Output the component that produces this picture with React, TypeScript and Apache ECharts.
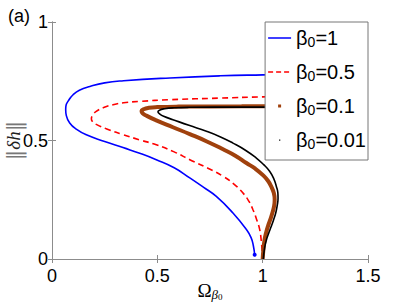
import React, { useEffect, useRef } from "react";
import * as echarts from "echarts";

const xTicks = [0, 0.5, 1, 1.5];
const yTicks = [0, 0.5, 1];

const seriesNames = ["β0=1", "β0=0.5", "β0=0.1", "β0=0.01"];

const beta1: number[][] = [
  [1.5, 0.782], [1.2, 0.78], [1.0, 0.777], [0.8, 0.773], [0.56, 0.764], [0.34, 0.752],
  [0.25, 0.743], [0.18, 0.728], [0.13, 0.712], [0.1, 0.693], [0.078, 0.668], [0.066, 0.645],
  [0.065, 0.63], [0.068, 0.605], [0.084, 0.574], [0.115, 0.548], [0.163, 0.524], [0.25, 0.496],
  [0.337, 0.47], [0.42, 0.445], [0.495, 0.419], [0.58, 0.385], [0.654, 0.342], [0.72, 0.302],
  [0.78, 0.264], [0.859, 0.194], [0.923, 0.124], [0.945, 0.09], [0.956, 0.055], [0.962, 0.018],
];

const beta05: number[][] = [
  [1.5, 0.69], [1.2, 0.687], [1.0, 0.684], [0.8, 0.679], [0.56, 0.672], [0.416, 0.665],
  [0.34, 0.659], [0.29, 0.651], [0.245, 0.639], [0.21, 0.623], [0.194, 0.608], [0.187, 0.591],
  [0.194, 0.578], [0.21, 0.568], [0.26, 0.549], [0.337, 0.525], [0.415, 0.503], [0.495, 0.482],
  [0.58, 0.452], [0.654, 0.419], [0.74, 0.383], [0.812, 0.349], [0.865, 0.315], [0.907, 0.278],
  [0.935, 0.243], [0.954, 0.208], [0.972, 0.165], [0.986, 0.124], [0.993, 0.08], [0.997, 0.039],
  [1.0, 0.0],
];

const beta01: number[][] = [
  [1.5, 0.645], [1.2, 0.645], [0.9, 0.644], [0.6, 0.643], [0.5, 0.641], [0.46, 0.638],
  [0.435, 0.632], [0.425, 0.624], [0.43, 0.615], [0.45, 0.604], [0.495, 0.585], [0.574, 0.556],
  [0.654, 0.527], [0.735, 0.496], [0.812, 0.463], [0.87, 0.436], [0.923, 0.405], [0.965, 0.381],
  [1.0, 0.355], [1.025, 0.33], [1.041, 0.305], [1.053, 0.278], [1.057, 0.25], [1.054, 0.222],
  [1.046, 0.194], [1.036, 0.166], [1.025, 0.138], [1.016, 0.11], [1.009, 0.081], [1.004, 0.045],
  [1.0, 0.0],
];

const beta001: number[][] = [
  [1.5, 0.641], [1.2, 0.641], [0.9, 0.641], [0.65, 0.64], [0.58, 0.638], [0.535, 0.634],
  [0.51, 0.628], [0.503, 0.621], [0.51, 0.613], [0.53, 0.602], [0.574, 0.588], [0.65, 0.564],
  [0.733, 0.539], [0.8, 0.515], [0.859, 0.489], [0.92, 0.458], [0.97, 0.426], [1.005, 0.398],
  [1.033, 0.37], [1.053, 0.338], [1.065, 0.306], [1.072, 0.28], [1.073, 0.257], [1.069, 0.225],
  [1.062, 0.194], [1.052, 0.166], [1.041, 0.138], [1.029, 0.11], [1.018, 0.081], [1.009, 0.045],
  [1.003, 0.0],
];

const colors = ["#0000ff", "#ff0000", "#a0410d", "#000000"];

const corners = "M0,0h0.01v0.01z M23,14h0.01v0.01z ";
const icons = [
  "path://" + corners + "M0,6.2H23V7.8H0z",
  "path://" + corners + "M0,6.2H5V7.8H0z M8,6.2H13V7.8H8z M16,6.2H21V7.8H16z",
  "path://" + corners + "M10,5.5h3v3h-3z",
  "path://" + corners + "M11,6.6h1.2v1.2h-1.2z",
];

export default function App() {
  const ref = useRef<HTMLDivElement>(null);
  useEffect(() => {
    if (!ref.current) return;
    const chart = echarts.init(ref.current, null, { renderer: "svg" });
    const axisColor = "#8c8c8c";
    const labelFont = { fontSize: 18, fontFamily: "Liberation Sans", color: "#000" };
    const dataSets = [beta1, beta05, beta01, beta001];
    const blueData: any[] = beta1.map((p, i) =>
      i === beta1.length - 1 ? { value: p, symbol: "circle", symbolSize: 4 } : { value: p }
    );
    const lineBase = { type: "line", smooth: 0.5, symbol: "none", z: 3 };
    chart.setOption({
      animation: false,
      grid: {
        left: 52,
        right: 39,
        top: 22,
        bottom: 46,
        containLabel: false,
        outerBoundsMode: "none",
      },
      graphic: [
        {
          type: "text",
          left: 8,
          top: 7,
          style: { text: "(a)", font: "18px 'Liberation Sans'", fill: "#000" },
        },
      ],
      xAxis: [
        {
          type: "value",
          min: 0,
          max: 1.5,
          interval: 0.5,
          axisLine: { show: true, lineStyle: { color: axisColor, width: 1 } },
          axisTick: { show: true, inside: true, length: 4, lineStyle: { color: axisColor } },
          splitLine: { show: false },
          axisLabel: { ...labelFont, margin: 8, formatter: (v: number) => String(v) },
          name: "{o|Ω}{b|β}{z|0}",
          nameLocation: "middle",
          nameGap: 20,
          nameMoveOverlap: false,
          nameTextStyle: {
            rich: {
              o: { fontSize: 19, fontFamily: "Liberation Serif", color: "#000", lineHeight: 22 },
              b: {
                fontSize: 13,
                fontFamily: "Liberation Serif",
                fontStyle: "italic",
                color: "#000",
                lineHeight: 10,
                verticalAlign: "bottom",
              },
              z: {
                fontSize: 9,
                fontFamily: "Liberation Serif",
                color: "#000",
                lineHeight: 6,
                verticalAlign: "bottom",
              },
            },
          },
        },
        {
          type: "value",
          position: "top",
          min: 0,
          max: 1.5,
          interval: 0.5,
          axisLine: { show: true, lineStyle: { color: axisColor, width: 1 } },
          axisTick: { show: true, inside: true, length: 4, lineStyle: { color: axisColor } },
          splitLine: { show: false },
          axisLabel: { show: false },
        },
      ],
      yAxis: [
        {
          type: "value",
          min: 0,
          max: 1,
          interval: 0.5,
          axisLine: { show: true, lineStyle: { color: axisColor, width: 1 } },
          axisTick: { show: true, inside: true, length: 4, lineStyle: { color: axisColor } },
          splitLine: { show: false },
          axisLabel: { ...labelFont, margin: 4, formatter: (v: number) => String(v) },
          name: "{bar|‖}{i|δh}{bar|‖}",
          nameLocation: "middle",
          nameGap: 28,
          nameMoveOverlap: false,
          nameTextStyle: {
            rich: {
              bar: { fontSize: 21, fontFamily: "DejaVu Serif", color: "#777" },
              i: {
                fontSize: 19,
                fontFamily: "Liberation Serif",
                fontStyle: "italic",
                color: "#222",
              },
            },
          },
        },
        {
          type: "value",
          position: "right",
          min: 0,
          max: 1,
          interval: 0.5,
          axisLine: { show: true, lineStyle: { color: axisColor, width: 1 } },
          axisTick: { show: true, inside: true, length: 4, lineStyle: { color: axisColor } },
          splitLine: { show: false },
          axisLabel: { show: false },
        },
      ],
      legend: {
        orient: "vertical",
        right: 39,
        top: 22,
        backgroundColor: "#fff",
        borderColor: "#777",
        borderWidth: 1,
        borderRadius: 0,
        padding: [6, 2, 9, 3],
        itemGap: 13,
        itemWidth: 23,
        itemHeight: 14,
        itemStyle: { borderWidth: 0 },
        data: seriesNames.map((n, i) => ({ name: n, icon: icons[i] })),
        formatter: (name: string) => "{m|β}{s|0}{m|=" + name.split("=")[1] + "}",
        textStyle: {
          rich: {
            m: { fontSize: 20, fontFamily: "Liberation Sans", color: "#000", lineHeight: 22 },
            s: {
              fontSize: 14,
              fontFamily: "Liberation Sans",
              color: "#000",
              lineHeight: 8,
              verticalAlign: "bottom",
            },
          },
        },
      },
      series: [
        {
          ...lineBase,
          name: seriesNames[0],
          data: blueData,
          showSymbol: true,
          itemStyle: { color: colors[0] },
          lineStyle: { color: colors[0], width: 1.6 },
        },
        {
          ...lineBase,
          name: seriesNames[1],
          data: dataSets[1],
          itemStyle: { color: colors[1] },
          lineStyle: { color: colors[1], width: 1.6, type: [6, 4] },
        },
        {
          ...lineBase,
          name: seriesNames[2],
          data: dataSets[2],
          itemStyle: { color: colors[2] },
          lineStyle: { color: colors[2], width: 4 },
        },
        {
          ...lineBase,
          name: seriesNames[3],
          data: dataSets[3],
          itemStyle: { color: colors[3] },
          lineStyle: { color: colors[3], width: 1.6 },
        },
      ],
    });
    return () => chart.dispose();
  }, []);
  return (
    <div
      ref={ref}
      style={{ position: "fixed", left: 0, top: 0, width: 407, height: 305, background: "#fff" }}
    />
  );
}
